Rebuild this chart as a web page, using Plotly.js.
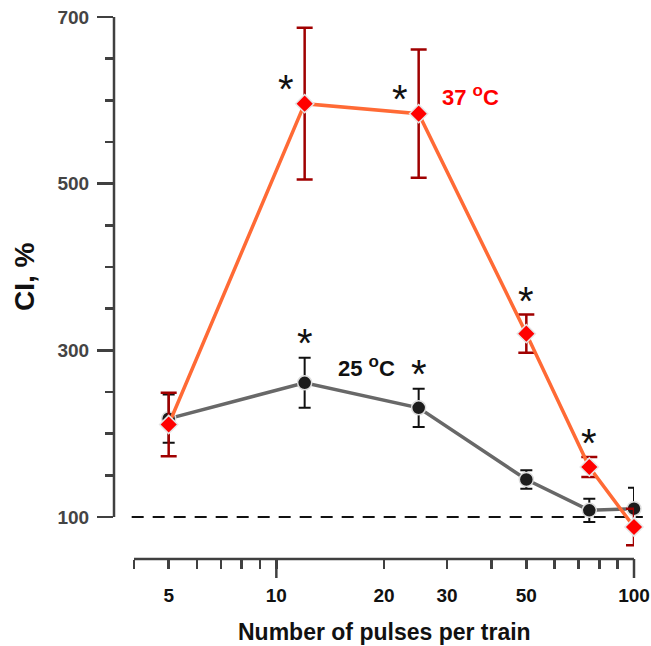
<!DOCTYPE html>
<html><head><meta charset="utf-8">
<script src="https://cdn.plot.ly/plotly-3.0.1.min.js"></script>
<style>html,body{margin:0;padding:0;background:#fff}</style>
</head><body><div id="chart" style="width:651px;height:646px"></div>
<script>
// ---- data ----
const pulses = [5, 12, 25, 50, 75, 100];
const ci25 = [218, 261, 231, 145, 108, 110];
const err25 = [29, 30, 23, 11, 14, 25];
const ci37 = [211, 596, 584, 320, 160, 88];
const err37 = [38, 91, 77, 23, 12, 22];
const stars25 = [1, 2];          // indices marked with *
const stars37 = [1, 2, 3, 4];
const starsBeside37 = [1, 2];    // * drawn beside the bar instead of above it
const xTickVals = [5, 10, 20, 30, 50, 100];
const xMinorVals = [4, 6, 7, 8, 9, 40, 60, 70, 80, 90];
const xLongTicks = [10, 100];
const yTickVals = [100, 300, 500, 700];
const yMinorVals = [150,200,250,350,400,450,550,600,650];
const baseline = 100;
const degO = '<sup><span style="font-size:17px">o</span></sup>';
const label25 = '25 ' + degO + 'C';
const label37 = '37 ' + degO + 'C';
const xTitle = 'Number of pulses per train';
const yTitle = 'CI, %';

// ---- styling ----
const W = 651, H = 646;
const M = {l:114, r:17, t:17, b:87};
const plotH = H - M.t - M.b;
const plotW = W - M.l - M.r;
const xr = [0.5461, 2];
const yr = [49.6, 700];
const axisColor = '#404040';
const FONT = 'Liberation Sans, Arial, sans-serif';
const frac = v => (Math.log10(v) - xr[0]) / (xr[1] - xr[0]);

const traces = [
  {
    x: pulses, y: ci25, type: 'scatter', mode: 'lines+markers', cliponaxis: false,
    line: {color: '#686868', width: 3.5},
    marker: {symbol: 'circle', size: 14, color: '#1c1c1c', line: {color: '#dedede', width: 1.5}},
    error_y: {type: 'data', array: err25, visible: true, color: '#111111', thickness: 2, width: 6}
  },
  {
    x: pulses, y: ci37, type: 'scatter', mode: 'lines+markers', cliponaxis: false,
    line: {color: '#ff6a35', width: 3.5},
    marker: {symbol: 'diamond', size: 14, color: '#ff0000', line: {color: '#e6e6e6', width: 1.5}},
    error_y: {type: 'data', array: err37, visible: true, color: '#a00000', thickness: 2.5, width: 8}
  }
];

const shapes = [
  {type: 'line', xref: 'paper', yref: 'y', x0: 0, x1: 0, y0: yTickVals[0], y1: yTickVals[yTickVals.length-1],
   line: {color: axisColor, width: 2.5}, layer: 'below'},
  {type: 'line', xref: 'paper', yref: 'paper', x0: frac(xMinorVals[0]), x1: 1, y0: 0, y1: 0,
   line: {color: axisColor, width: 2.5}, layer: 'below'},
  {type: 'line', xref: 'paper', yref: 'y', x0: 0.034, x1: 1.017, y0: baseline, y1: baseline,
   line: {color: '#111', width: 2, dash: '12px,9px'}, layer: 'below'}
];
xLongTicks.forEach(v => shapes.push({type: 'line', xref: 'paper', yref: 'paper',
  x0: frac(v), x1: frac(v), y0: 0, y1: -19 / plotH, line: {color: axisColor, width: 2.5}}));

const annotations = [];
const STAR_OFF = -6;
function star(x, y, xs, ys) {
  annotations.push({xref: 'x', yref: 'y', x: Math.log10(x), y: y, xshift: xs, yshift: ys + STAR_OFF,
    xanchor: 'center', yanchor: 'middle',
    text: '*', showarrow: false, font: {family: FONT, size: 40, color: '#111'}});
}
stars25.forEach(i => star(pulses[i], ci25[i] + err25[i], 0, 21));
stars37.forEach(i => {
  if (starsBeside37.includes(i)) star(pulses[i], ci37[i], -19, 21);
  else star(pulses[i], ci37[i] + err37[i], 0, 20);
});
annotations.push({xref: 'x', yref: 'y', x: Math.log10(17.9), y: 281, text: label25, showarrow: false,
  xanchor: 'center', yanchor: 'middle',
  font: {family: FONT, size: 22, color: '#111', weight: 'bold'}});
annotations.push({xref: 'x', yref: 'y', x: Math.log10(35), y: 603, yshift: 2, text: label37, showarrow: false,
  xanchor: 'center', yanchor: 'middle',
  font: {family: FONT, size: 22, color: '#ff0000', weight: 'bold'}});
annotations.push({xref: 'paper', yref: 'paper', x: frac(20), y: -73 / plotH,
  xanchor: 'center', yanchor: 'middle',
  text: xTitle, showarrow: false, font: {family: FONT, size: 23, color: '#111', weight: 'bold'}});
annotations.push({xref: 'paper', yref: 'y', x: -90 / plotW, y: 400, yshift: -10, textangle: -90,
  xanchor: 'center', yanchor: 'middle',
  text: yTitle, showarrow: false, font: {family: FONT, size: 28, color: '#111', weight: 'bold'}});

const layout = {
  width: W, height: H, margin: M, showlegend: false,
  paper_bgcolor: '#fff', plot_bgcolor: '#fff',
  xaxis: {type: 'log', range: xr, showline: false, showgrid: false, zeroline: false,
    tickmode: 'array', tickvals: xTickVals, ticktext: xTickVals.map(String),
    ticks: 'outside', ticklen: 9, tickwidth: 2.5, tickcolor: axisColor, ticklabelstandoff: 10,
    tickfont: {family: FONT, size: 19, color: '#111', weight: 'bold'},
    minor: {tickmode: 'array', tickvals: xMinorVals, ticks: 'outside', ticklen: 9, tickwidth: 2.5, tickcolor: axisColor}},
  yaxis: {range: yr, showline: false, showgrid: false, zeroline: false,
    tickmode: 'array', tickvals: yTickVals, ticktext: yTickVals.map(String),
    ticks: 'outside', ticklen: 16, tickwidth: 2.5, tickcolor: axisColor, ticklabelstandoff: 4,
    tickfont: {family: FONT, size: 19, color: '#444', weight: 'bold'},
    minor: {tickmode: 'array', tickvals: yMinorVals, ticks: 'outside', ticklen: 8, tickwidth: 2.5, tickcolor: axisColor}},
  shapes: shapes, annotations: annotations
};
Plotly.newPlot('chart', traces, layout, {displayModeBar: false, staticPlot: true});
</script></body></html>
